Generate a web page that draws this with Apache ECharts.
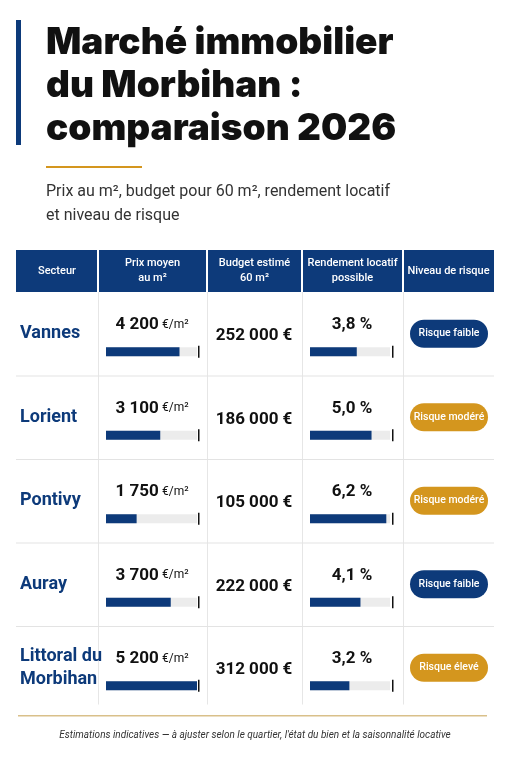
<!DOCTYPE html><html><head><meta charset="utf-8">
<script src="https://cdn.jsdelivr.net/npm/echarts@6/dist/echarts.min.js"></script>
<style>html,body{margin:0;padding:0;background:#fff}#c{width:511px;height:768px}</style></head><body><div id="c"></div>
<script>
const sectors=['Vannes','Lorient','Pontivy','Auray','Littoral du\nMorbihan'];
const prices=[4200,3100,1750,3700,5200];
const budgets=[252000,186000,105000,222000,312000];
const yields=[3.8,5.0,6.2,4.1,3.2];
const risks=['Risque faible','Risque modéré','Risque modéré','Risque faible','Risque élevé'];
const headers=['Secteur','Prix moyen\nau m²','Budget estimé\n60 m²','Rendement locatif\npossible','Niveau de risque'];
const NAVY='#0d3a7a',GOLD='#d4961e';
const riskColor={'Risque faible':NAVY,'Risque modéré':GOLD,'Risque élevé':GOLD};
const fmt=n=>String(n).replace(/\B(?=(\d{3})+(?!\d))/g,' ');
const cols=[16,98,207,302,403,494];
const rowTop=292,rowH=83.5;
const F='Roboto, "Noto Sans", sans-serif';
const g=[];
g.push({type:'rect',shape:{x:16,y:20,width:5,height:125},style:{fill:NAVY}});
['Marché immobilier','du Morbihan :','comparaison 2026'].forEach((t,i)=>g.push({type:'text',x:46,y:43+i*43,style:{text:t,font:'900 37px Inter, '+F,fill:'#111',verticalAlign:'middle'}}));
g.push({type:'rect',shape:{x:46,y:166,width:96,height:2},style:{fill:GOLD}});
g.push({type:'text',x:46,y:204,style:{text:'Prix au m², budget pour 60 m², rendement locatif\net niveau de risque',font:'16px '+F,fill:'#333',lineHeight:24,verticalAlign:'middle'}});
g.push({type:'rect',shape:{x:16,y:250,width:478,height:42},style:{fill:NAVY}});
headers.forEach((h,i)=>{
 const cx=(cols[i]+cols[i+1])/2;
 g.push({type:'text',x:cx,y:271,style:{text:h,font:'500 11px '+F,fill:'#fff',align:'center',verticalAlign:'middle',lineHeight:15}});
 if(i>0){g.push({type:'rect',shape:{x:cols[i]-1,y:250,width:2,height:42},style:{fill:'#fff'}});
  g.push({type:'rect',shape:{x:cols[i],y:292,width:1,height:rowH*5-5},style:{fill:'#e6e6e6'}});}
});
sectors.forEach((s,r)=>{
 const cy=rowTop+rowH*r+rowH/2;
 if(r<4)g.push({type:'rect',shape:{x:16,y:rowTop+rowH*(r+1),width:478,height:1},style:{fill:'#e3e3e3'}});
 g.push({type:'text',x:20,y:cy,style:{text:s,font:'bold 18px '+F,fill:NAVY,verticalAlign:'middle',lineHeight:23}});
 g.push({type:'text',x:152,y:cy-9,style:{text:'{a|'+fmt(prices[r])+'} {b|€/m²}',rich:{a:{font:'bold 17px '+F,fill:'#111'},b:{font:'12px '+F,fill:'#111'}},align:'center',verticalAlign:'middle'}});
 g.push({type:'text',x:254,y:cy+2,style:{text:fmt(budgets[r])+' €',font:'bold 17px '+F,fill:'#111',align:'center',verticalAlign:'middle'}});
 g.push({type:'text',x:352,y:cy-9,style:{text:yields[r].toFixed(1).replace('.',',')+' %',font:'bold 17px '+F,fill:'#111',align:'center',verticalAlign:'middle'}});
 g.push({type:'rect',shape:{x:198,y:cy+12,width:1.5,height:12},style:{fill:'#111'}});
 g.push({type:'rect',shape:{x:392,y:cy+12,width:1.5,height:12},style:{fill:'#111'}});
 g.push({type:'rect',shape:{x:410,y:cy-14,width:78,height:28,r:14},style:{fill:riskColor[risks[r]]}});
 g.push({type:'text',x:449,y:cy,style:{text:risks[r],font:'500 10.5px '+F,fill:'#fff',align:'center',verticalAlign:'middle'}});
});
g.push({type:'rect',shape:{x:18,y:715,width:469,height:1.5},style:{fill:'#d9c08a'}});
g.push({type:'text',x:255,y:735,style:{text:"Estimations indicatives — à ajuster selon le quartier, l'état du bien et la saisonnalité locative",font:'italic 10px '+F,fill:'#333',align:'center',verticalAlign:'middle'}});
const gtop=rowTop+rowH/2+18-rowH/2;
const yAx=i=>({type:'category',gridIndex:i,data:sectors,inverse:true,show:false});
const chart=echarts.init(document.getElementById('c'));
chart.setOption({animation:false,
 grid:[{left:106,width:91,top:gtop,height:rowH*5},{left:310,width:80,top:gtop,height:rowH*5}],
 xAxis:[{type:'value',gridIndex:0,min:0,max:5200,show:false},{type:'value',gridIndex:1,min:0,max:6.5,show:false}],
 yAxis:[yAx(0),yAx(1)],
 series:[{type:'bar',xAxisIndex:0,yAxisIndex:0,data:prices,barWidth:9,itemStyle:{color:NAVY},showBackground:true,backgroundStyle:{color:'#ececec'}},
  {type:'bar',xAxisIndex:1,yAxisIndex:1,data:yields,barWidth:9,itemStyle:{color:NAVY},showBackground:true,backgroundStyle:{color:'#ececec'}}],
 graphic:g});
</script></body></html>
